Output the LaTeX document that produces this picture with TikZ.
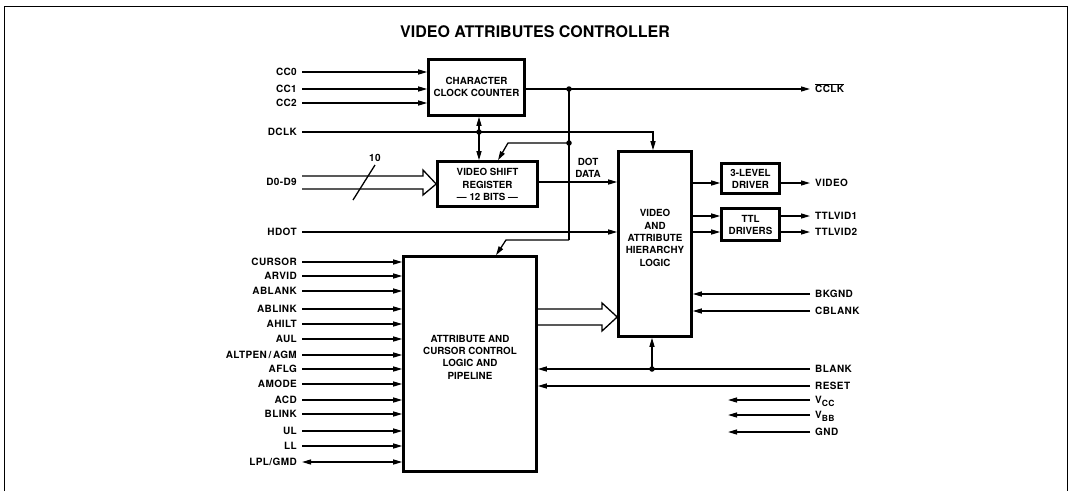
\documentclass[tikz,border=0pt]{standalone}
\usepackage{fontspec}
\setmainfont{TeX Gyre Heros}
\newfontfamily\lblfont[LetterSpace=4]{TeX Gyre Heros}
\usetikzlibrary{arrows.meta}
\newcommand{\lowsub}[1]{\raisebox{-2.5pt}{\fontsize{8.5}{9}\selectfont #1}}
\begin{document}
\begin{tikzpicture}[x=1pt,y=-1pt,
  box/.style={draw, line width=2.6pt, inner sep=0pt},
  wire/.style={line width=1.3pt},
  arr/.style={wire, -{Triangle[length=9pt,width=5pt]}},
  darr/.style={wire, {Triangle[length=9pt,width=5pt]}-{Triangle[length=9pt,width=5pt]}},
  lbl/.style={font=\lblfont\bfseries\fontsize{10}{11}\selectfont, inner sep=0pt, text height=7.2pt, text depth=0pt},
  lft/.style={lbl, anchor=east},
  rgt/.style={lbl, anchor=west},
  btxt/.style={font=\bfseries\fontsize{9.8}{12.3}\selectfont, align=center, inner sep=0pt},
  jdot/.style={circle, fill, inner sep=0pt, minimum size=5.5pt},
]
\useasboundingbox (0,0) rectangle (1071,491);
\draw[line width=1pt] (4,491) -- (4,6) -- (1067,6) -- (1067,491);
\node[font=\bfseries\fontsize{16}{18}\selectfont] (title) at (535,32) {VIDEO ATTRIBUTES CONTROLLER};

% boxes
\node[box, minimum width=96pt, minimum height=56pt] (ccc) at (476.5,87.5) {};
\node[btxt] (ccct) at (476.5,87) {CHARACTER\\CLOCK COUNTER};
\node[box, minimum width=100pt, minimum height=45pt] (vsr) at (487.5,184) {};
\node[btxt] (vsrt) at (487.5,184.5) {VIDEO SHIFT\\REGISTER\\--- 12 BITS ---};
\node[box, minimum width=73pt, minimum height=185pt] (vahl) at (655,244) {};
\node[btxt] (vahlt) at (655,238) {VIDEO\\AND\\ATTRIBUTE\\HIERARCHY\\LOGIC};
\node[box, minimum width=58pt, minimum height=30pt] (lvl) at (750.5,178.5) {};
\node[btxt] (lvlt) at (750.5,179) {3-LEVEL\\DRIVER};
\node[box, minimum width=58pt, minimum height=32pt] (ttl) at (750.5,224.5) {};
\node[btxt] (ttlt) at (750.5,225) {TTL\\DRIVERS};
\node[box, minimum width=133pt, minimum height=215pt] (accl) at (470,364) {};
\node[btxt] (acclt) at (470,357) {ATTRIBUTE AND\\CURSOR CONTROL\\LOGIC AND\\PIPELINE};

% left labels
\node[lft] (cc0) at (297,72) {CC0};
\node[lft] (cc1) at (297,89) {CC1};
\node[lft] (cc2) at (297,103) {CC2};
\node[lft] (dclk) at (297,132) {DCLK};
\node[lft] (dd) at (297,182) {D0-D9};
\node[lft] (hdot) at (297,232) {HDOT};
\foreach \n/\t/\y in {cursor/CURSOR/262, arvid/ARVID/276, ablank/ABLANK/291, ablink/ABLINK/309, ahilt/AHILT/324, aul/AUL/339, aflg/AFLG/369, amode/AMODE/384, acd/ACD/400, blink/BLINK/414, ul/UL/431, ll/LL/446} {
  \node[lft] (\n) at (297,\y) {\t};
  \draw[arr] ([xshift=5pt]\n.east) -- (\n -| accl.west);
}
\node[lft] (altpen) at (297,355) {ALTPEN\,/\,AGM};
\draw[arr] ([xshift=5pt]altpen.east) -- (altpen -| accl.west);
\node[lft] (lpl) at (297,462) {LPL/GMD};
\draw[darr] ([xshift=5pt]lpl.east) -- (lpl -| accl.west);

\foreach \n in {cc0,cc1,cc2} {\draw[arr] ([xshift=5pt]\n.east) -- (\n -| ccc.west);}

% right labels
\node[rgt] (cclk) at (815,89) {\ensuremath{\overline{\mbox{CCLK}}}};
\node[rgt] (video) at (815,183) {VIDEO};
\node[rgt] (tv1) at (815,216) {TTLVID1};
\node[rgt] (tv2) at (815,232) {TTLVID2};
\node[rgt] (bkgnd) at (815,294) {BKGND};
\node[rgt] (cblank) at (815,311) {CBLANK};
\node[rgt] (blank) at (815,369) {BLANK};
\node[rgt] (reset) at (815,386) {RESET};
\node[rgt] (vcc) at (815,400) {V\lowsub{CC}};
\node[rgt] (vbb) at (815,415) {V\lowsub{BB}};
\node[rgt] (gnd) at (815,432) {GND};

% coordinates
\coordinate (jc) at (569,89);
\coordinate (jl) at (569,143);
\coordinate (jb) at (569,240);
\coordinate (jd) at (479,132);
\coordinate (jbl) at (652,369);
\coordinate (vccend) at (728,400);
\coordinate (vbbend) at (728,415);
\coordinate (gndend) at (728,432);

% CCLK
\draw[arr] (ccc.east |- cclk) -- ([xshift=-5pt]cclk.west);
\draw[wire] (jc) -- (jb);
\draw[arr] (jl) -- (508,143) -- (vsr.north -| 498,0);
\draw[arr] (jb) -- (506,240) -- (accl.north -| 496,0);
% CCC <-> VSR
\draw[darr] (ccc.south -| jd) -- (vsr.north -| jd);
% DCLK
\draw[arr] ([xshift=5pt]dclk.east) -- (653,132) -- (vahl.north -| 653,0);
% D0-D9 bus
\draw[wire, line join=miter] ([xshift=5pt]dd.east |- 0,176) -- (423,176) -- (423,170) -- (vsr.west) -- (423,195) -- (423,189) -- ([xshift=5pt]dd.east |- 0,189);
\draw[wire] (353,200) -- (375,165);
\node[lbl, anchor=south] (ten) at (375,162) {10};
% VSR -> VAHL
\draw[arr] (vsr.east |- 0,182) -- (vahl.west |- 0,182);
\node[btxt, font=\bfseries\fontsize{9.8}{11.5}\selectfont] (dot) at (588,168) {DOT\\DATA};
% HDOT
\draw[arr] ([xshift=5pt]hdot.east) -- (hdot -| vahl.west);
% ACCL bus
\draw[wire, line join=miter] (accl.east |- 0,309) -- (602,309) -- (602,303) -- (vahl.west |- 0,317) -- (602,331) -- (602,325) -- (accl.east |- 0,325);
% drivers
\draw[arr] (vahl.east |- video) -- (video -| lvl.west);
\draw[arr] (lvl.east |- video) -- ([xshift=-5pt]video.west);
\draw[arr] (vahl.east |- tv1) -- (tv1 -| ttl.west);
\draw[arr] (vahl.east |- tv2) -- (tv2 -| ttl.west);
\draw[arr] (ttl.east |- tv1) -- ([xshift=-5pt]tv1.west);
\draw[arr] (ttl.east |- tv2) -- ([xshift=-5pt]tv2.west);
% right inputs
\draw[arr] ([xshift=-5pt]bkgnd.west) -- (bkgnd -| vahl.east);
\draw[arr] ([xshift=-5pt]cblank.west) -- (cblank -| vahl.east);
\draw[arr] ([xshift=-5pt]blank.west) -- (blank -| accl.east);
\draw[arr] (jbl) -- (vahl.south -| jbl);
\draw[arr] ([xshift=-5pt]reset.west) -- (reset -| accl.east);
\draw[arr] ([xshift=-5pt]vcc.west) -- (vccend);
\draw[arr] ([xshift=-5pt]vbb.west) -- (vbbend);
\draw[arr] ([xshift=-5pt]gnd.west) -- (gndend);

% dots
\node[jdot] (dot1) at (jc) {};
\node[jdot] (dot2) at (jl) {};
\node[jdot] (dot3) at (jd) {};
\node[jdot] (dot4) at (jbl) {};
\end{tikzpicture}
\end{document}
